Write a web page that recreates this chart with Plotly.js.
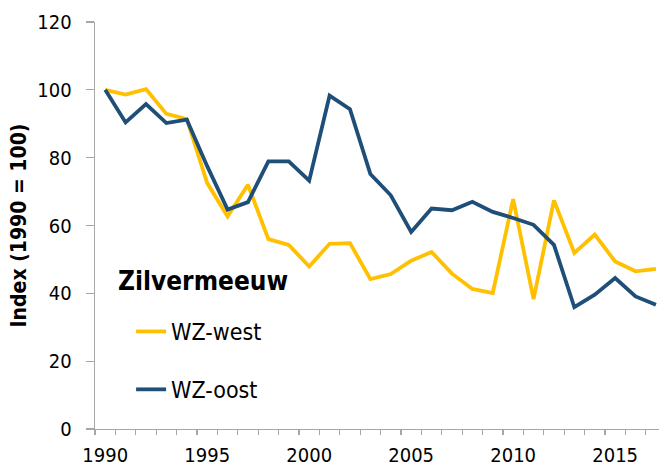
<!DOCTYPE html>
<html>
<head>
<meta charset="utf-8">
<script src="https://cdn.plot.ly/plotly-3.0.1.min.js"></script>
<style>html,body{margin:0;padding:0;background:#fff}#chart{width:659px;height:469px}</style>
</head>
<body>
<div id="chart"></div>
<script>
const years = [1990,1991,1992,1993,1994,1995,1996,1997,1998,1999,2000,2001,2002,2003,2004,2005,2006,2007,2008,2009,2010,2011,2012,2013,2014,2015,2016,2017];
const wzWest = [100,98.6,100.2,92.9,91.4,72.5,62.7,72.0,56.0,54.3,47.9,54.6,54.8,44.2,45.7,49.6,52.2,45.8,41.3,40.1,67.8,38.3,67.4,51.9,57.3,49.4,46.5,47.2];
const wzOost = [100,90.4,95.8,90.2,91.2,77.5,64.7,66.9,78.9,78.9,73.2,98.3,94.3,75.2,68.9,58.1,65.0,64.5,67.0,64.0,62.2,60.2,54.3,35.9,39.6,44.5,39.1,36.6];
const xTickVals = [1990,1995,2000,2005,2010,2015];
const yTickVals = [0,20,40,60,80,100,120];
const legendTitle = 'Zilvermeeuw';
const yTitle = 'Index (1990 = 100)';

const FONT = 'DejaVu Sans Condensed, DejaVu Sans, sans-serif';

const traces = [
  {x: years, y: wzWest, name: 'WZ-west', type: 'scatter', mode: 'lines',
   line: {color: '#FFC000', width: 3.8}, legendgroup: 'a'},
  {x: years, y: wzOost, name: 'WZ-oost', type: 'scatter', mode: 'lines',
   line: {color: '#1F4E79', width: 3.8}, legendgroup: 'b'}
];

const layout = {
  width: 659, height: 469,
  margin: {l: 95, r: 0, t: 22, b: 40},
  paper_bgcolor: '#fff', plot_bgcolor: '#fff',
  font: {family: FONT, size: 20, color: '#000'},
  showlegend: true,
  legend: {
    x: 0.064, y: 0.2924, xanchor: 'left', yanchor: 'top',
    bgcolor: 'rgba(0,0,0,0)',
    font: {family: FONT, size: 23, color: '#000'},
    traceorder: 'grouped', tracegroupgap: 25
  },
  annotations: [{
    text: legendTitle, xref: 'paper', yref: 'paper',
    x: 0.037, y: 0.364, xanchor: 'left', yanchor: 'middle', showarrow: false,
    font: {family: FONT, size: 26, weight: 'bold', color: '#000'}
  }],
  xaxis: {
    range: [1989.5, 2017.15],
    tickvals: xTickVals, ticktext: xTickVals.map(String),
    ticks: '', showgrid: false, zeroline: false,
    showline: true, linecolor: '#A6A6A6', linewidth: 1.3,
    ticklabelstandoff: 8,
    tickfont: {family: FONT, size: 20, color: '#000'},
    minor: {tick0: 1989.5, dtick: 1, ticks: 'outside', ticklen: 5, tickcolor: '#A6A6A6', tickwidth: 1.3, showgrid: false}
  },
  yaxis: {
    range: [0, 120],
    tickvals: yTickVals, ticktext: yTickVals.map(String),
    ticks: 'outside', ticklen: 8, tickcolor: '#A6A6A6', tickwidth: 1.3,
    showgrid: false, zeroline: false,
    showline: true, linecolor: '#A6A6A6', linewidth: 1.3,
    ticklabelstandoff: 10,
    tickfont: {family: FONT, size: 20, color: '#000'},
    title: {text: yTitle, font: {family: FONT, size: 21, weight: 'bold', color: '#000'}, standoff: 5}
  }
};

Plotly.newPlot('chart', traces, layout, {displayModeBar: false, staticPlot: true});
</script>
</body>
</html>
